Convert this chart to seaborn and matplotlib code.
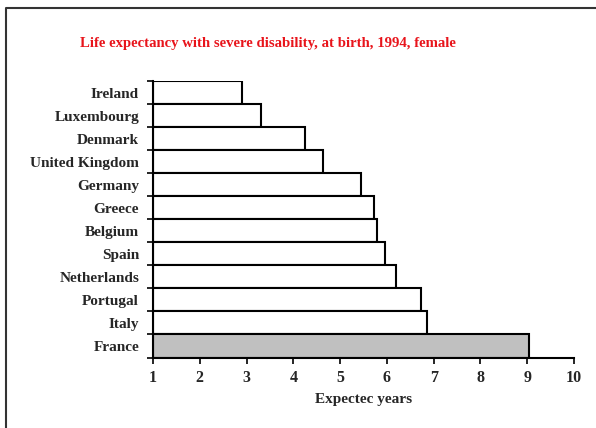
import matplotlib
matplotlib.use("Agg")
import matplotlib.pyplot as plt
import matplotlib.lines as mlines
import numpy as np
import pandas as pd
import seaborn as sns

countries = [
    "Ireland", "Luxembourg", "Denmark", "United Kingdom", "Germany", "Greece",
    "Belgium", "Spain", "Netherlands", "Portugal", "Italy", "France",
]
years = [2.90, 3.30, 4.24, 4.64, 5.44, 5.72, 5.79, 5.96, 6.19, 6.73, 6.86, 9.04]
x_ticks = [1, 2, 3, 4, 5, 6, 7, 8, 9, 10]

df = pd.DataFrame({"country": countries, "years": years})
palette = {c: "white" for c in countries}
palette["France"] = "#c0c0c0"

sns.set_style("white")
plt.rcParams["font.family"] = ["Liberation Serif", "DejaVu Serif"]
plt.rcParams["font.weight"] = "bold"

fig = plt.figure(figsize=(5.96, 4.28), dpi=100)
ax = fig.add_axes([153 / 596, 1 - 357.5 / 428, (574 - 153) / 596, (357.5 - 81) / 428])

sns.barplot(
    data=df, x="years", y="country", hue="country", palette=palette,
    orient="h", width=1.0, edgecolor="black", linewidth=1.5,
    legend=False, ax=ax,
)
# bars start at 1 on the axis
for patch, v in zip(ax.patches, years):
    patch.set_x(1)
    patch.set_width(v - 1)

ax.set_xlim(1, 10)
ax.set_ylim(len(countries) - 0.5, -0.5)
ax.set_xticks(x_ticks)
ax.set_xticklabels([str(t) for t in x_ticks], fontsize=11.5, fontweight="bold")
ax.set_yticks(range(len(countries)))
ax.set_yticklabels(countries, fontsize=11, fontweight="bold")
ax.set_yticks(np.arange(len(countries) + 1) - 0.5, minor=True)
ax.tick_params(axis="y", which="both", left=True)
ax.tick_params(axis="x", which="both", bottom=True)
ax.tick_params(axis="y", which="major", length=0, pad=10)
ax.tick_params(axis="y", which="minor", length=4, width=1.2, color="black", direction="out")
ax.tick_params(axis="x", which="major", length=4, width=1.2, color="black", direction="out", pad=5)

ax.set_xlabel("Expectec years", fontsize=11, fontweight="bold", labelpad=5)
ax.set_ylabel("")
fig.text(
    268 / 596, 1 - 43 / 428,
    "Life expectancy with severe disability, at birth, 1994, female",
    color="#e8141b", fontsize=10.6, fontweight="bold", ha="center", va="center",
)

sns.despine(ax=ax)
for side in ["left", "bottom"]:
    ax.spines[side].set_color("black")
    ax.spines[side].set_linewidth(1.5)

# figure frame (top and left edges)
fy = 1 - 7.5 / 428
fx = 5.5 / 596
fig.add_artist(mlines.Line2D([fx, fx, 1], [0, fy, fy], transform=fig.transFigure,
                             color="#333333", linewidth=1.5))

fig.savefig("out.png", dpi=100)
